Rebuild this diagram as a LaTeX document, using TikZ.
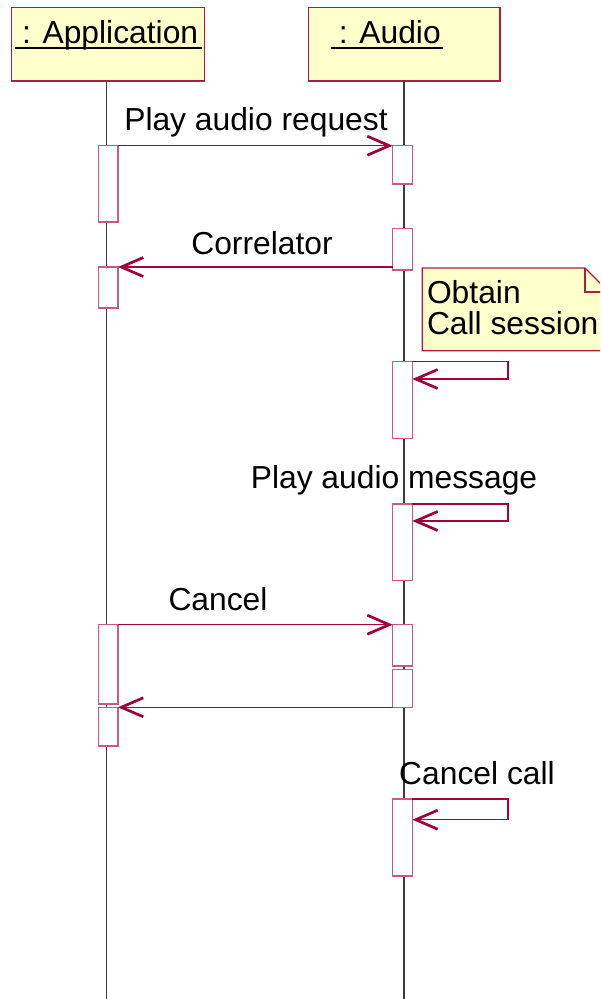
\documentclass[tikz,border=0pt]{standalone}
\usepackage{fontspec}
\setmainfont{Liberation Sans}
\usetikzlibrary{arrows.meta,calc}
\definecolor{headred}{RGB}{170,30,70}
\definecolor{actpink}{RGB}{200,90,130}
\definecolor{arrred}{RGB}{160,0,60}
\definecolor{noteyel}{RGB}{255,255,204}
\definecolor{lifegray}{RGB}{60,60,60}
\begin{document}
\begin{tikzpicture}[x=1pt,y=-1pt,
  every node/.style={font=\fontsize{31.8}{38}\selectfont, inner sep=0pt, outer sep=0pt},
  headbox/.style={draw=headred, fill=noteyel, line width=1.2pt, minimum width=193.4pt, minimum height=73.7pt, anchor=north west},
  actbox/.style={draw=actpink, fill=white, line width=1.3pt, minimum width=19.6pt, anchor=north west},
  msg/.style={draw=arrred, line width=1.4pt, -{Straight Barb[length=22pt,width=19pt,line width=2.7pt]}},
  lbl/.style={anchor=base},
  lifeline/.style={draw=lifegray, line width=1.2pt},
  uline/.style={draw=black, line width=2pt},
  notebox/.style={draw=headred, fill=noteyel, line width=1.2pt}]
\clip (0,0) rectangle (600,999);
\fill[white] (0,0) rectangle (600,999);
% headers
\node[headbox] (apphead) at (11.3,7.3) {};
\node[headbox, minimum width=191.7pt] (audhead) at (308.3,7.3) {};
\node[anchor=base west] (apptxt) at (22,43.3) {: Application};
\node[anchor=base west] (audtxt) at (338.8,43.3) {: Audio};
\draw[uline] ($(apptxt.base west)+(-7,4.4)$) -- ($(apptxt.base east)+(4,4.4)$);
\draw[uline] ($(audtxt.base west)+(-7.8,4.4)$) -- ($(audtxt.base east)+(2,4.4)$);
% lifelines
\coordinate (appbot) at (106.5,999);
\coordinate (audbot) at (404,999);
\draw[lifeline] (apphead.south -| appbot) -- (appbot);
\draw[lifeline] (audhead.south -| audbot) -- (audbot);
% activation boxes
\node[actbox, minimum height=76.3pt] (a1) at (98.3,145.7) {};
\node[actbox, minimum height=38.3pt] (b1) at (392.7,145.7) {};
\node[actbox, minimum height=41.3pt] (b2) at (392.7,228.7) {};
\node[actbox, minimum height=41pt] (a2) at (98.3,267) {};
\node[actbox, minimum height=76.6pt] (b3) at (392.7,361.7) {};
\node[actbox, minimum height=76.7pt] (b4) at (392.7,504) {};
\node[actbox, minimum height=79.3pt] (a3) at (98.3,624.7) {};
\node[actbox, minimum height=41.3pt] (b5) at (392.7,624.7) {};
\node[actbox, minimum height=38pt] (b6) at (392.7,669.3) {};
\node[actbox, minimum height=38.7pt] (a4) at (98.3,707.3) {};
\node[actbox, minimum height=77pt] (b7) at (392.7,799) {};
% note
\path[notebox] (422.3,268) -- (585,268) -- (609,292) -- (609,350.7) -- (422.3,350.7) -- cycle;
\draw[draw=headred, line width=1.2pt] (585,268) -- (585,292) -- (609,292);
\node[anchor=base west] (n1) at (427,303) {Obtain};
\node[anchor=base west] (n2) at (427,334) {Call session};
% messages
\draw[msg] (a1.north east) -- (b1.north west);
\node[lbl] (t1) at (256,130.7) {Play audio request};
\draw[msg] (a2.north east -| b2.west) -- (a2.north east);
\node[lbl] (t2) at (262,254) {Correlator};
\coordinate (l1) at (508,379);
\draw[msg] (b3.north east) -| (l1) -- (l1 -| b3.east);
\coordinate (l2) at (508,521);
\draw[msg] (b4.north east) -| (l2) -- (l2 -| b4.east);
\node[lbl] (t3) at (394,488) {Play audio message};
\draw[msg] (a3.north east) -- (b5.north west);
\node[lbl] (t4) at (218,610) {Cancel};
\draw[msg] (b6.south west) -- (a4.north east);
\coordinate (l3) at (508,819.7);
\draw[msg] (b7.north east) -| (l3) -- (l3 -| b7.east);
\node[lbl] (t5) at (477,784) {Cancel call};
\end{tikzpicture}
\end{document}
